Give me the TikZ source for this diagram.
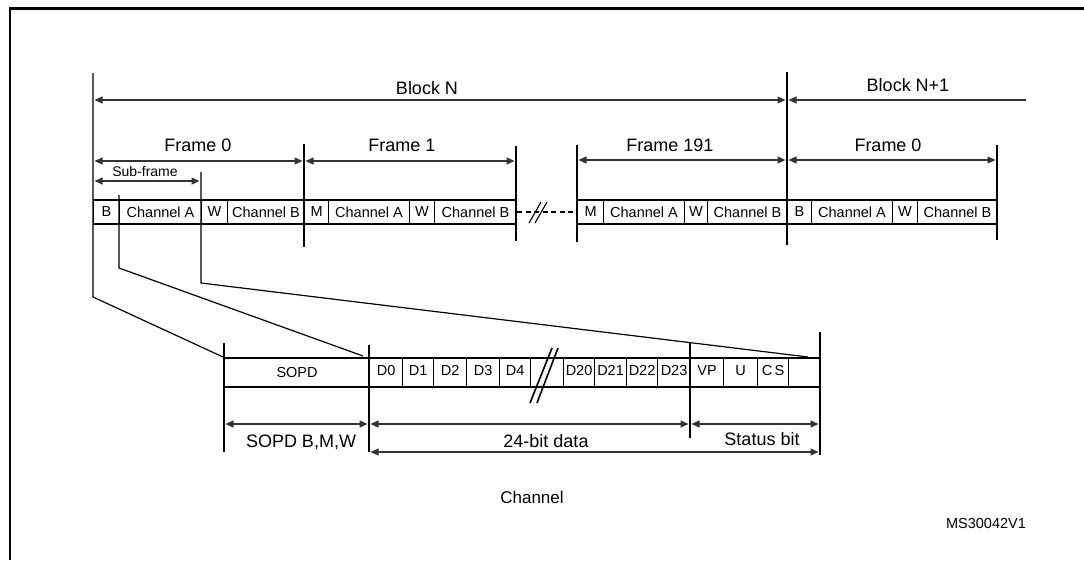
\documentclass[tikz,border=0pt]{standalone}
\usepackage{fontspec}
\setmainfont{Liberation Sans}
\usetikzlibrary{arrows.meta}
\tikzset{
  cell/.style={draw, line width=1.1pt, inner sep=0pt, anchor=west,
    minimum height=24pt, font=\fontsize{14.5}{15}\selectfont},
  bitcell/.style={cell, minimum height=29pt, text height=8pt, text depth=2pt,
    font=\fontsize{14.5}{15}\selectfont},
  tick/.style={line width=1.2pt},
  dim/.style={{Triangle[length=8pt,width=7pt]}-{Triangle[length=8pt,width=7pt]},
    line width=1.1pt, draw=black!80},
  leftdim/.style={dim, {Triangle[length=8pt,width=7pt]}-},
  biglabel/.style={inner sep=0pt, font=\fontsize{18}{18}\selectfont},
  smalllabel/.style={inner sep=0pt, font=\fontsize{14}{14}\selectfont},
  refcode/.style={inner sep=0pt, font=\fontsize{14.5}{15}\selectfont}
}
\begin{document}
\begin{tikzpicture}[x=1pt, y=-1pt]
  \useasboundingbox (0,0) rectangle (1084,560);
  % outer frame
  \draw[line width=2.2pt] (10,560) -- (10,8.5) -- (1084,8.5);

  % frame bar
  \foreach \l/\r/\t/\n in {93/119/B/b0, 119/201/Channel A/a0, 201/227/W/w0,
      227/304/Channel B/c0, 304/328/M/m1, 328/409/Channel A/a1, 409/434/W/w1,
      434/516/Channel B/c1, 577/603/M/m191, 603/684/Channel A/a191,
      684/707/W/w191, 707/787/Channel B/c191, 787/811/B/bn,
      811/892/Channel A/an, 892/917/W/wn, 917/997/Channel B/cn}
    \node[cell, minimum width={\r-\l}] (\n) at (\l,212) {\t};

  % channel bar
  \node[bitcell, minimum width=145, text height=10pt, text depth=0pt] (sopd) at (224,372.5) {SOPD};
  \foreach \l/\r/\t/\n in {369/402/D0/d0, 402/433/D1/d1, 433/466/D2/d2,
      466/499/D3/d3, 499/530/D4/d4, 530/563//gap, 563/594/D20/d20,
      594/626/D21/d21, 626/657/D22/d22, 657/690/D23/d23, 690/723/VP/vp,
      723/757/U/u, 757/788/C\,S/cs, 788/820//spare}
    \node[bitcell, minimum width={\r-\l}] (\n) at (\l,372.5) {\t};

  % breaks
  \draw[line width=1.1pt, dash pattern=on 5pt off 3.5pt] (c1.east) -- (m191.west);
  \draw[line width=1.1pt] (529,223) -- (541,202) (535,223) -- (547,202);
  \draw[line width=1.6pt] (530,403) -- (552,348) (537,403) -- (558,348);

  % ticks and zoom lines
  \coordinate (blkL) at (93,73);
  \coordinate (chA) at (119,195);
  \coordinate (subR) at (201,172);
  \coordinate (sopdEnd) at (363,356);
  \coordinate (spareEnd) at (808,357);
  \draw[tick] (blkL) -- (93,297) -- (sopd.north west);
  \draw[tick] (chA) -- (119,268) -- (sopdEnd);
  \draw[tick] (subR) -- (201,283) -- (spareEnd);
  \draw[tick] (304,144) -- (304,247);
  \draw[tick] (516,146) -- (516,241);
  \draw[tick] (577,145) -- (577,242);
  \draw[tick] (787,72) -- (787,245);
  \draw[tick] (997,145) -- (997,240);
  \draw[tick] (224,343) -- (224,452);
  \draw[tick] (369,345) -- (369,452);
  \draw[tick] (690,343) -- (690,438);
  \draw[tick] (820,332) -- (820,455);

  % block and frame spans
  \draw[dim] (94.5,100) -- (785.5,100);
  \draw[leftdim] (788.5,100) -- (1026,100);
  \draw[dim] (94.5,161) -- (302.5,161);
  \draw[dim] (305.5,161) -- (514.5,161);
  \draw[dim] (578.5,160) -- (785.5,160);
  \draw[dim] (788.5,160) -- (995.5,160);
  \draw[dim] (94.5,181) -- (199.5,181);
  \node[biglabel] (blockN) at (427,88) {Block N};
  \node[biglabel] (blockN1) at (908,85) {Block N+1};
  \node[biglabel] (fr0) at (198,145) {Frame 0};
  \node[biglabel] (fr1) at (402,145) {Frame 1};
  \node[biglabel] (fr191) at (670,145) {Frame 191};
  \node[biglabel] (frN0) at (888,145) {Frame 0};
  \node[smalllabel] (subfr) at (145,171) {Sub-frame};

  % channel spans
  \draw[dim] (225.5,424) -- (367.5,424);
  \draw[dim] (370.5,424) -- (688.5,424);
  \draw[dim] (691.5,424) -- (818.5,424);
  \draw[dim] (370.5,452) -- (818.5,452);
  \node[biglabel] (sopdlbl) at (301,442) {SOPD B,M,W};
  \node[biglabel] (datalbl) at (546,441) {24-bit data};
  \node[biglabel] (statlbl) at (762,439) {Status bit};
  \node[biglabel, font=\fontsize{17}{17}\selectfont] (chlbl) at (532,497) {Channel};
  \node[refcode] (ref) at (986,523) {MS30042V1};
\end{tikzpicture}
\end{document}
